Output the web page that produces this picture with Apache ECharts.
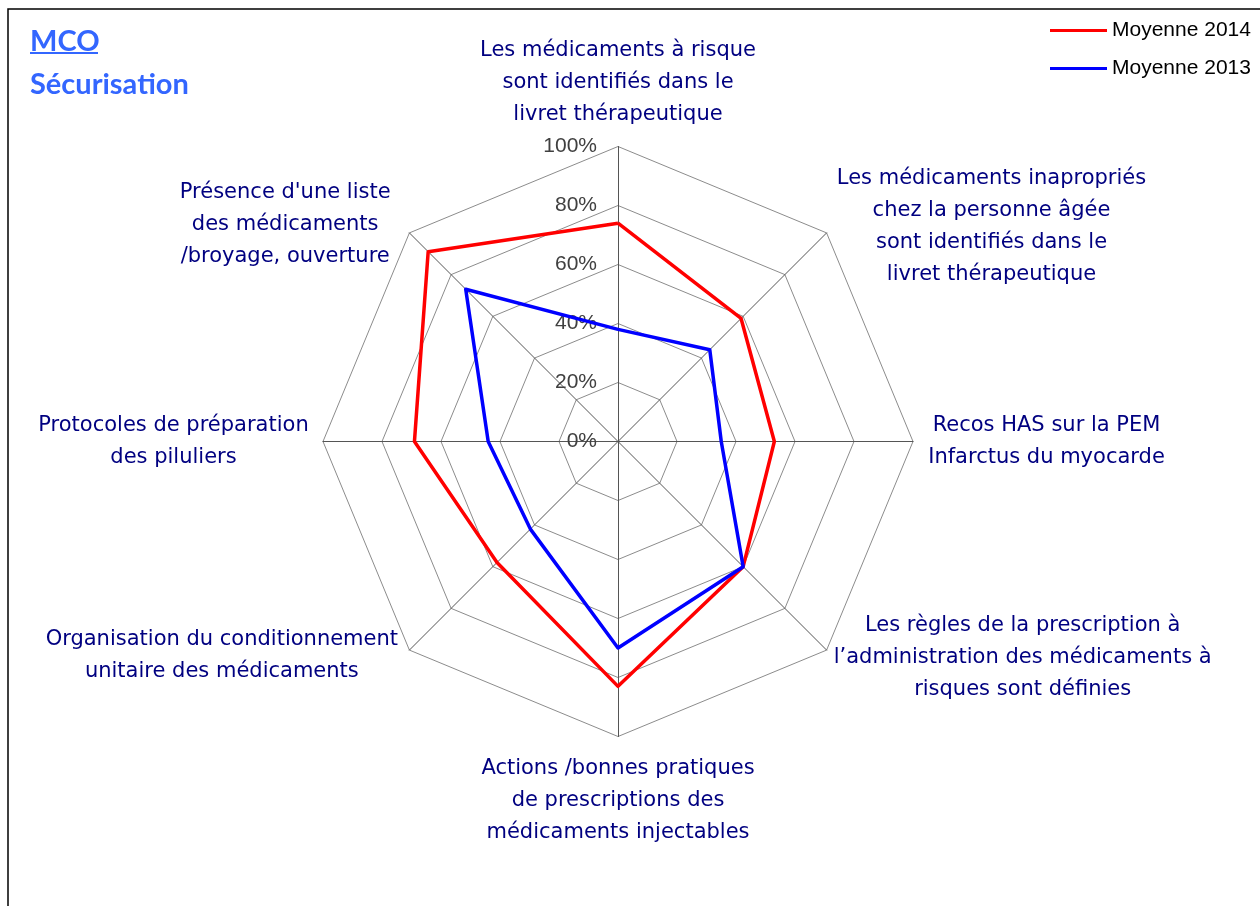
<!DOCTYPE html>
<html>
<head>
<meta charset="utf-8">
<script src="https://cdn.jsdelivr.net/npm/echarts@6/dist/echarts.min.js"></script>
<style>
  html, body { margin: 0; padding: 0; background: #fff; }
  #chart { width: 1260px; height: 906px; }
</style>
</head>
<body>
<div id="chart"></div>
<script>
// Categories, listed clockwise starting from the top axis
const categories = [
  "Les médicaments à risque\nsont identifiés dans le\nlivret thérapeutique",
  "Les médicaments inapropriés\nchez la personne âgée\nsont identifiés dans le\nlivret thérapeutique",
  "Recos HAS sur la PEM\nInfarctus du myocarde",
  "Les règles de la prescription à\nl’administration des médicaments à\nrisques sont définies",
  "Actions /bonnes pratiques\nde prescriptions des\nmédicaments injectables",
  "Organisation du conditionnement\nunitaire des médicaments",
  "Protocoles de préparation\ndes piluliers",
  "Présence d'une liste\ndes médicaments\n/broyage, ouverture"
];
const seriesNames = ["Moyenne 2014", "Moyenne 2013"];
const values2014 = [74, 59, 53, 60, 83, 58, 69, 91];
const values2013 = [38, 44, 35, 60, 70, 42, 44, 73];
const axisMax = 100;

// label layout per category (clockwise order)
const nameLayout = [
  { gap: 16, align: 'center', v: 'bottom', pad: [0, 0, 0, 0] },
  { gap: 14, align: 'left',   v: 'middle', pad: [7, 0, 0, 0] },
  { gap: 15, align: 'left',   v: 'middle', pad: [0, 0, 0, 0] },
  { gap: 10, align: 'left',   v: 'middle', pad: [0, 0, 0, 0] },
  { gap: 16, align: 'center', v: 'top',    pad: [0, 0, 0, 0] },
  { gap: 10, align: 'right',  v: 'middle', pad: [0, 4, 4, 0] },
  { gap: 14, align: 'right',  v: 'middle', pad: [0, 0, 0, 0] },
  { gap: 18, align: 'right',  v: 'middle', pad: [8, 6, 0, 0] }
];

const NAME_FONT = 'DejaVu Sans';
const NAME_SIZE = 21;
const NAME_LH = 32;
const NAME_COLOR = '#000080';

const ctx = document.createElement('canvas').getContext('2d');
ctx.font = NAME_SIZE + 'px "' + NAME_FONT + '"';
function blockWidth(txt) {
  return Math.ceil(Math.max.apply(null, txt.split('\n').map(l => ctx.measureText(l).width)));
}

// ECharts lays radar indicators counter-clockwise; reorder so they read clockwise
const order = categories.map((_, i) => (categories.length - i) % categories.length);

const indicators = order.map((ci, k) => {
  const lay = nameLayout[ci];
  const ind = {
    name: categories[ci],
    min: 0,
    max: axisMax,
    nameGap: lay.gap,
    nameTextStyle: {
      align: lay.align,
      verticalAlign: lay.v,
      padding: lay.pad,
      rich: {
        c: {
          width: blockWidth(categories[ci]),
          align: 'center',
          fontFamily: NAME_FONT,
          fontSize: NAME_SIZE,
          lineHeight: NAME_LH,
          color: NAME_COLOR
        }
      }
    }
  };
  if (k === 0) {
    ind.axisLabel = {
      show: true,
      formatter: '{value}%',
      margin: 21,
      fontFamily: 'Liberation Sans',
      fontSize: 21,
      color: '#404040'
    };
  }
  return ind;
});

const chart = echarts.init(document.getElementById('chart'), null, { renderer: 'canvas' });
chart.setOption({
  animation: false,
  backgroundColor: '#ffffff',
  title: {
    text: 'MCO',
    subtext: 'Sécurisation',
    left: 30,
    top: 27,
    padding: 0,
    itemGap: 14,
    textStyle: { fontFamily: 'Lato', fontWeight: 'bold', fontSize: 29, color: '#3366ff' },
    subtextStyle: { fontFamily: 'Lato', fontWeight: 'bold', fontSize: 29, color: '#3366ff' }
  },
  legend: {
    data: seriesNames,
    orient: 'vertical',
    left: 1050,
    top: 20,
    padding: 0,
    itemWidth: 57,
    itemHeight: 3,
    itemGap: 17,
    icon: 'rect',
    textStyle: { fontFamily: 'Liberation Sans', fontSize: 21, color: '#000' }
  },
  graphic: [
    {
      type: 'rect',
      shape: { x: 8, y: 9, width: 1400, height: 1000 },
      style: { fill: 'none', stroke: '#000', lineWidth: 1.5 },
      silent: true
    },
    {
      type: 'rect',
      shape: { x: 30, y: 52, width: 68, height: 2 },
      style: { fill: '#3366ff' },
      silent: true
    }
  ],
  radar: {
    center: [618, 441.5],
    radius: 295,
    startAngle: 90,
    shape: 'polygon',
    splitNumber: 5,
    indicator: indicators,
    axisName: {
      formatter: function (value) {
        return value.split('\n').map(l => '{c|' + l + '}').join('\n');
      },
      color: NAME_COLOR,
      fontFamily: NAME_FONT,
      fontSize: NAME_SIZE,
      lineHeight: NAME_LH
    },
    axisLabel: { show: false },
    axisTick: { show: false },
    axisLine: { lineStyle: { color: '#555555', width: 1 } },
    splitLine: { lineStyle: { color: '#8c8c8c', width: 1 } },
    splitArea: { show: false }
  },
  series: [{
    type: 'radar',
    symbol: 'none',
    data: [
      {
        name: seriesNames[0],
        value: order.map(i => values2014[i]),
        lineStyle: { color: '#ff0000', width: 3.5 },
        itemStyle: { color: '#ff0000' }
      },
      {
        name: seriesNames[1],
        value: order.map(i => values2013[i]),
        lineStyle: { color: '#0000ff', width: 3.5 },
        itemStyle: { color: '#0000ff' }
      }
    ]
  }]
});
</script>
</body>
</html>
